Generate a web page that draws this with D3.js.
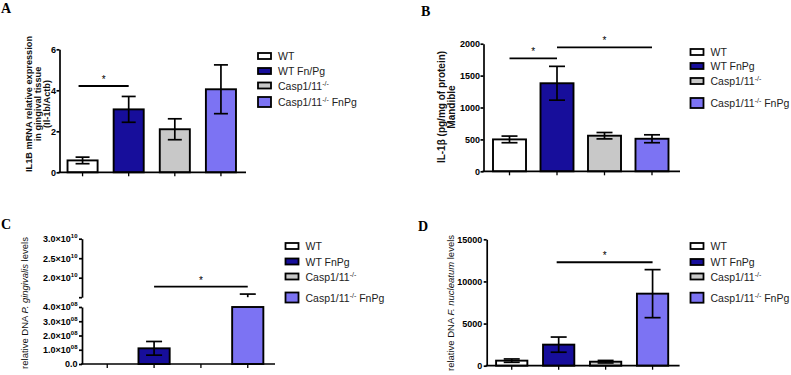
<!DOCTYPE html>
<html><head><meta charset="utf-8">
<script src="https://cdn.jsdelivr.net/npm/d3@7"></script>
<style>body{margin:0;background:#fff}svg{display:block}</style>
</head><body>
<svg id="c" width="791" height="375"></svg>
<script>
// ---------- data ----------
const groups = ["WT", "WT FnPg", "Casp1/11-/-", "Casp1/11-/- FnPg"];
const legendA = ["WT", "WT Fn/Pg", "Casp1/11-/-", "Casp1/11-/- FnPg"];
const legendBCD = ["WT", "WT FnPg", "Casp1/11-/-", "Casp1/11-/- FnPg"];
const fills = ["#ffffff", "#170e9b", "#c8c8c8", "#7c73f3"];

const meanA = [0.58, 3.07, 2.1, 4.05];
const errA = [0.16, 0.63, 0.51, 1.19];
const ticksA = [0, 2, 4, 6];
const sigA = [{ from: 0, to: 1, y: 4.21 }];

const meanB = [500, 1380, 558, 510];
const errB = [52, 265, 50, 62];
const ticksB = [0, 500, 1000, 1500, 2000];
const sigB = [{ from: 0, to: 1, y: 1770 }, { from: 1, to: 3, y: 1942 }];

const meanC = [0, 1.1e8, 0, 1.0e10];
const errC = [0, 0.48e8, 0, 0.58e10];
const ticksCLow = [0, 1e8, 2e8, 3e8, 4e8];
const ticksCHigh = [1.5e10, 2e10, 2.5e10, 3e10];
const sigC = [{ from: 1, to: 3, y: 1.77e10 }];

const meanD = [600, 2500, 475, 8550];
const errD = [200, 900, 150, 2850];
const ticksD = [0, 5000, 10000, 15000];
const sigD = [{ from: 1, to: 3, y: 12280 }];

// ---------- drawing ----------
const svg = d3.select("#c");
const LW = 1.7;

function supText(sel, base, sup, after, supSize) {
  sel.text(null);
  sel.append("tspan").text(base);
  sel.append("tspan").attr("dy", -4).attr("font-size", supSize).text(sup);
  if (after) sel.append("tspan").attr("dy", 4).text(after);
}

function panel(o) {
  const g = svg.append("g");
  const x = d3.scaleBand().domain(groups).range([o.axisX, o.xEnd])
    .paddingInner(o.pI).paddingOuter(o.pO);
  const segs = o.segments.map(s => Object.assign({}, s, {
    y: d3.scaleLinear().domain(s.domain).range(s.range)
  }));
  const base = segs[0];
  const baseY = base.range[0];

  // bars
  segs.forEach(s => {
    const [d0, d1] = s.domain;
    o.means.forEach((m, i) => {
      if (m <= d0) return;
      const top = s.y(Math.min(m, d1));
      g.append("rect").attr("x", x(groups[i])).attr("width", x.bandwidth())
        .attr("y", top).attr("height", s.y(d0) - top)
        .attr("fill", fills[i]).attr("stroke", "#000").attr("stroke-width", 1.9);
    });
  });
  // error bars
  segs.forEach(s => {
    const [d0, d1] = s.domain;
    o.means.forEach((m, i) => {
      const e = o.errs[i];
      if (!e) return;
      const cx = x(groups[i]) + x.bandwidth() / 2;
      const lo = m - e, hi = m + e;
      const a = Math.max(lo, d0), b = Math.min(hi, d1);
      if (a < b) {
        g.append("line").attr("x1", cx).attr("x2", cx).attr("y1", s.y(a)).attr("y2", s.y(b))
          .attr("stroke", "#000").attr("stroke-width", LW);
      }
      [lo, hi].forEach(v => {
        if (v >= d0 && v <= d1) {
          g.append("line").attr("x1", cx - o.cap).attr("x2", cx + o.cap)
            .attr("y1", s.y(v)).attr("y2", s.y(v))
            .attr("stroke", "#000").attr("stroke-width", LW);
        }
      });
    });
  });

  // y axes
  segs.forEach(s => {
    const ax = g.append("g").attr("transform", `translate(${o.axisX},0)`)
      .call(d3.axisLeft(s.y).tickValues(s.ticks).tickSize(3).tickSizeOuter(0).tickPadding(o.tickPad)
        .tickFormat(s.fmt || (d => d)));
    ax.select(".domain").attr("stroke-width", LW);
    ax.selectAll(".tick line").attr("stroke-width", LW);
    ax.selectAll(".tick text").attr("font-family", "Arial, 'Liberation Sans', sans-serif")
      .attr("font-weight", "bold").attr("font-size", 9).attr("fill", "#000");
    if (s.sup) {
      ax.selectAll(".tick text").each(function (d) {
        const r = s.sup(d);
        if (r) supText(d3.select(this), r[0], r[1], null, 6);
      });
    }
  });

  // x axis
  const xa = g.append("g").attr("transform", `translate(0,${baseY})`)
    .call(d3.axisBottom(x).tickSize(4).tickSizeOuter(0).tickFormat(""));
  xa.select(".domain").attr("stroke-width", LW).attr("d", `M${o.axisX - 1},0H${o.xEnd + 2}`);
  xa.selectAll(".tick line").attr("stroke-width", 1.3);

  // significance
  o.sig.forEach(sg => {
    const s = segs.find(q => sg.y >= q.domain[0] && sg.y <= q.domain[1]) || base;
    const yy = s.y(sg.y);
    const x1 = x(groups[sg.from]) + x.bandwidth() / 2 + (o.sigInset || 0);
    const x2 = x(groups[sg.to]) + x.bandwidth() / 2;
    g.append("line").attr("x1", x1).attr("x2", x2).attr("y1", yy).attr("y2", yy)
      .attr("stroke", "#000").attr("stroke-width", 1.9);
    g.append("text").attr("x", (x1 + x2) / 2).attr("y", yy - 3).attr("text-anchor", "middle")
      .attr("font-family", "Arial, sans-serif").attr("font-size", 10).attr("fill", "#000").text("*");
  });

  // y title
  const t = g.append("text").attr("transform", `translate(${o.title.x},${o.title.y}) rotate(-90)`)
    .attr("text-anchor", "middle").attr("font-family", "Arial, 'Liberation Sans', sans-serif")
    .attr("font-size", o.title.size).attr("fill", "#111");
  o.title.lines.forEach((ln, k) => {
    const tl = t.append("tspan").attr("x", 0).attr("dy", k === 0 ? 0 : o.title.lh);
    ln.forEach(part => {
      tl.append("tspan").attr("font-weight", part.b ? "bold" : "normal")
        .attr("font-style", part.i ? "italic" : "normal").text(part.t);
    });
  });

  // panel letter
  svg.append("text").attr("x", o.letter.x).attr("y", o.letter.y)
    .attr("font-family", "'Liberation Serif', 'Times New Roman', serif").attr("font-weight", "bold")
    .attr("font-size", 14).text(o.letter.t);

  // legend
  const lg = svg.append("g");
  o.legend.labels.forEach((lab, i) => {
    const cy = o.legend.ys[i];
    const h = i === 3 ? 10 : 6;
    lg.append("rect").attr("x", o.legend.x).attr("y", cy - h / 2).attr("width", 13).attr("height", h)
      .attr("fill", fills[i]).attr("stroke", "#000").attr("stroke-width", 1.8);
    const tx = lg.append("text").attr("x", o.legend.x + 20).attr("y", cy + 4)
      .attr("font-family", "Arial, 'Liberation Sans', sans-serif").attr("font-size", 10.5).attr("fill", "#222");
    const idx = lab.indexOf("-/-");
    if (idx >= 0) {
      supText(tx, lab.slice(0, idx), "-/-", lab.slice(idx + 3), 7);
    } else tx.text(lab);
  });
}

panel({
  axisX: 59.5, xEnd: 244, pI: 0.348, pO: 0.174, cap: 7, tickPad: 0.5,
  segments: [{ domain: [0, 6], range: [172.3, 49.3], ticks: ticksA }],
  means: meanA, errs: errA, sig: sigA, sigInset: -4,
  title: { x: 31.5, y: 104, size: 9.2, lh: 9.2, lines: [
    [{ t: "IL1B mRNA relative expression", b: 1 }],
    [{ t: "in gingival tissue", b: 1 }],
    [{ t: "(Il-1b/Actb)", b: 1 }]] },
  letter: { x: 1, y: 13, t: "A" },
  legend: { x: 258, ys: [56, 71, 85.5, 102], labels: legendA }
});

panel({
  axisX: 483.5, xEnd: 678, pI: 0.305, pO: 0.2, cap: 8, tickPad: 0.5,
  segments: [{ domain: [0, 2000], range: [171.3, 43.7], ticks: ticksB }],
  means: meanB, errs: errB, sig: sigB,
  title: { x: 445, y: 107, size: 10, lh: 10, lines: [
    [{ t: "IL-1β (pg/mg of protein)", b: 1 }],
    [{ t: "Mandible", b: 1 }]] },
  letter: { x: 421, y: 16, t: "B" },
  legend: { x: 690.5, ys: [52, 66, 81, 103], labels: legendBCD }
});

panel({
  axisX: 82, xEnd: 273, pI: 0.334, pO: 0.206, cap: 8, tickPad: 1.5,
  segments: [
    { domain: [0, 4e8], range: [364, 307], ticks: ticksCLow,
      fmt: d => d === 0 ? "0.0" : d,
      sup: d => d === 0 ? null : [(d / 1e8).toFixed(1) + "×10", "08"] },
    { domain: [1.5e10, 3e10], range: [297.2, 238.7], ticks: ticksCHigh,
      fmt: d => d,
      sup: d => d === 1.5e10 ? ["", ""] : [(d / 1e10).toFixed(1) + "×10", "10"] }
  ],
  means: meanC, errs: errC, sig: sigC, sigInset: 0,
  title: { x: 28, y: 303, size: 9.5, lh: 10, lines: [
    [{ t: "relative DNA " }, { t: "P. gingivalis", i: 1 }, { t: " levels" }]] },
  letter: { x: 1, y: 229, t: "C" },
  legend: { x: 285.5, ys: [246, 261.5, 276.5, 297.5], labels: legendBCD }
});

panel({
  axisX: 486.7, xEnd: 677.6, pI: 0.334, pO: 0.2, cap: 8, tickPad: 1.5,
  segments: [{ domain: [0, 15000], range: [365.7, 239.3], ticks: ticksD }],
  means: meanD, errs: errD, sig: sigD, sigInset: -2,
  title: { x: 454, y: 303, size: 9.5, lh: 10, lines: [
    [{ t: "relative DNA " }, { t: "F. nucleatum", i: 1 }, { t: " levels" }]] },
  letter: { x: 418, y: 231, t: "D" },
  legend: { x: 690.5, ys: [246, 262, 276.5, 297.7], labels: legendBCD }
});
</script>
</body></html>
